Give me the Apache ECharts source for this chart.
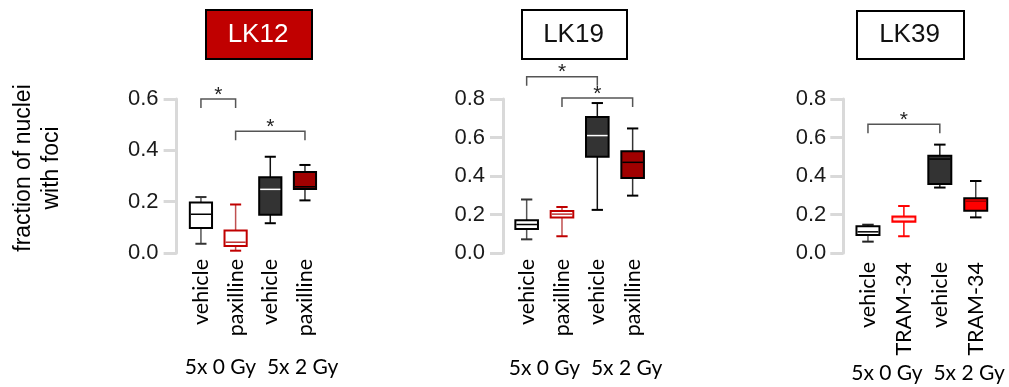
<!DOCTYPE html>
<html>
<head>
<meta charset="utf-8">
<script src="https://cdn.jsdelivr.net/npm/echarts@6/dist/echarts.min.js"></script>
<style>
html,body{margin:0;padding:0;background:#fff;}
#c{width:1009px;height:387px;}
</style>
</head>
<body>
<div id="c"></div>
<script>
// ---- data ----
const categoriesLK12 = ['vehicle', 'paxilline', 'vehicle', 'paxilline'];
const categoriesLK19 = ['vehicle', 'paxilline', 'vehicle', 'paxilline'];
const categoriesLK39 = ['vehicle', 'TRAM-34', 'vehicle', 'TRAM-34'];
// [low whisker, Q1, median, Q3, high whisker]
const boxesLK12 = [
  [0.036, 0.097, 0.151, 0.197, 0.218],
  [0.009, 0.027, 0.042, 0.088, 0.189],
  [0.116, 0.149, 0.248, 0.295, 0.375],
  [0.205, 0.249, 0.258, 0.316, 0.343]
];
const boxesLK19 = [
  [0.071, 0.125, 0.148, 0.170, 0.278],
  [0.087, 0.184, 0.202, 0.218, 0.239],
  [0.224, 0.500, 0.610, 0.707, 0.779],
  [0.298, 0.389, 0.471, 0.528, 0.647]
];
const boxesLK39 = [
  [0.059, 0.094, 0.110, 0.139, 0.147],
  [0.087, 0.162, 0.176, 0.190, 0.244],
  [0.340, 0.358, 0.488, 0.505, 0.563],
  [0.185, 0.220, 0.269, 0.284, 0.374]
];
// significance brackets: [from category, to category, bracket height]
const sigLK12 = [[0, 1, 0.600], [1, 3, 0.474]];
const sigLK19 = [[0, 2, 0.916], [1, 3, 0.805]];
const sigLK39 = [[0, 2, 0.669]];
const ticksLK12 = { min: 0, max: 0.6, interval: 0.2 };
const ticksLK19 = { min: 0, max: 0.8, interval: 0.2 };
const ticksLK39 = { min: 0, max: 0.8, interval: 0.2 };
const groupLabel = '5x 0 Gy  5x 2 Gy';
const yTitle = 'fraction of nuclei\nwith foci';

// ---- styles ----
const stylesLK12 = [
  { fill: '#ffffff', border: '#000000', median: '#000000', whisker: '#555555', cap: '#333333' },
  { fill: '#ffffff', border: '#c00000', median: '#c03030', whisker: '#c05050', cap: '#c00000' },
  { fill: '#333333', border: '#000000', median: '#ffffff', whisker: '#111111', cap: '#000000' },
  { fill: '#a00000', border: '#000000', median: '#000000', whisker: '#333333', cap: '#000000' }
];
const stylesLK19 = stylesLK12;
const stylesLK39 = [
  { fill: '#ffffff', border: '#000000', median: '#000000', whisker: '#555555', cap: '#222222' },
  { fill: '#ff8c8c', border: '#ff0000', median: '#ffffff', whisker: '#ff0000', cap: '#ff0000' },
  { fill: '#333333', border: '#000000', median: '#000000', whisker: '#222222', cap: '#000000' },
  { fill: '#ff0000', border: '#000000', median: '#a00000', whisker: '#444444', cap: '#000000' }
];

function boxRenderer(styles) {
  return function (params, api) {
    const x = api.value(0);
    const vals = [api.value(1), api.value(2), api.value(3), api.value(4), api.value(5)];
    const p = vals.map(v => api.coord([x, v]));
    const cx = p[0][0];
    const band = api.size([1, 0])[0];
    const bw = band * 0.64;
    const cw = bw * 0.5;
    const s = styles[params.dataIndex];
    const yLow = p[0][1], yQ1 = p[1][1], yMed = p[2][1], yQ3 = p[3][1], yHigh = p[4][1];
    return {
      type: 'group',
      children: [
        { type: 'line', shape: { x1: cx, y1: yQ3, x2: cx, y2: yHigh }, style: { stroke: s.whisker, lineWidth: 1.5 } },
        { type: 'line', shape: { x1: cx, y1: yQ1, x2: cx, y2: yLow }, style: { stroke: s.whisker, lineWidth: 1.5 } },
        { type: 'line', shape: { x1: cx - cw / 2, y1: yHigh, x2: cx + cw / 2, y2: yHigh }, style: { stroke: s.cap, lineWidth: 2 } },
        { type: 'line', shape: { x1: cx - cw / 2, y1: yLow, x2: cx + cw / 2, y2: yLow }, style: { stroke: s.cap, lineWidth: 2 } },
        { type: 'rect', shape: { x: cx - bw / 2, y: yQ3, width: bw, height: yQ1 - yQ3 }, style: { fill: s.fill, stroke: s.border, lineWidth: 2 } },
        { type: 'line', shape: { x1: cx - bw / 2 + 1, y1: yMed, x2: cx + bw / 2 - 1, y2: yMed }, style: { stroke: s.median, lineWidth: 1.5 } }
      ]
    };
  };
}

function sigRenderer(params, api) {
  const a = api.coord([api.value(0), api.value(2)]);
  const b = api.coord([api.value(1), api.value(2)]);
  const leg = 9;
  return {
    type: 'group',
    children: [
      { type: 'polyline', shape: { points: [[a[0], a[1] + leg], [a[0], a[1]], [b[0], b[1]], [b[0], b[1] + leg]] },
        style: { stroke: '#555555', lineWidth: 1.5, fill: null } },
      { type: 'text', x: (a[0] + b[0]) / 2, y: a[1] - 4,
        style: { text: '*', fill: '#222', font: '21px "Liberation Sans", Arial, sans-serif', align: 'center', verticalAlign: 'middle' } }
    ]
  };
}

const grids = [
  { left: 183.6, top: 99, width: 138.7, height: 154 },
  { left: 509, top: 99, width: 141.3, height: 154 },
  { left: 850, top: 99, width: 143.7, height: 154 }
];
const yOffsets = [7, 6, 6.7];
const yLabelMargins = [18, 18, 17];
const xMargins = [6, 6, 9];
const cats = [categoriesLK12, categoriesLK19, categoriesLK39];
const ticks = [ticksLK12, ticksLK19, ticksLK39];
const boxes = [boxesLK12, boxesLK19, boxesLK39];
const styles = [stylesLK12, stylesLK19, stylesLK39];
const sigs = [sigLK12, sigLK19, sigLK39];

const xAxis = cats.map((c, i) => ({
  type: 'category', gridIndex: i, data: c, boundaryGap: true,
  axisLine: { show: false }, axisTick: { show: false },
  axisLabel: { rotate: 90, margin: xMargins[i], color: '#000', fontSize: 21.5, fontFamily: 'Lato, "Open Sans", sans-serif', interval: 0 }
}));
const yAxis = ticks.map((t, i) => ({
  type: 'value', gridIndex: i, min: t.min, max: t.max, interval: t.interval,
  position: 'left', offset: yOffsets[i],
  splitLine: { show: false },
  axisLine: { show: true, lineStyle: { color: '#d9d9d9', width: 3 } },
  axisTick: { show: true, length: 13, lineStyle: { color: '#d9d9d9', width: 3 } },
  axisLabel: { margin: yLabelMargins[i], color: '#1a1a1a', fontSize: 22, fontFamily: '"Liberation Sans", Arial, sans-serif',
    formatter: v => v.toFixed(1) }
}));

const series = [];
for (let i = 0; i < 3; i++) {
  series.push({
    type: 'custom', xAxisIndex: i, yAxisIndex: i, clip: false,
    renderItem: boxRenderer(styles[i]),
    encode: { x: 0, y: [1, 2, 3, 4, 5] },
    data: boxes[i].map((b, k) => [k].concat(b))
  });
  series.push({
    type: 'custom', xAxisIndex: i, yAxisIndex: i, clip: false,
    renderItem: sigRenderer,
    encode: { x: [0, 1], y: 2 },
    data: sigs[i]
  });
}

const titleBoxes = [
  { x: 205, y: 9, w: 106, h: 49, fill: '#c00000', color: '#ffffff', text: 'LK12' },
  { x: 521, y: 9, w: 105, h: 49, fill: '#ffffff', color: '#111111', text: 'LK19' },
  { x: 856, y: 10, w: 107, h: 48, fill: '#ffffff', color: '#111111', text: 'LK39' }
];
const graphic = [];
titleBoxes.forEach(t => {
  graphic.push({ type: 'rect', left: t.x, top: t.y, shape: { width: t.w, height: t.h },
    style: { fill: t.fill, stroke: '#000', lineWidth: 2 } });
  graphic.push({ type: 'text', x: t.x + t.w / 2, y: t.y + t.h / 2 + 1,
    style: { text: t.text, fill: t.color, font: '26px "Liberation Sans", Arial, sans-serif', align: 'center', verticalAlign: 'middle' } });
});
[[261.5, 367], [585.5, 368], [928, 373]].forEach(p => {
  graphic.push({ type: 'text', x: p[0], y: p[1],
    style: { text: groupLabel, fill: '#000', font: '21px Lato, "Open Sans", sans-serif', align: 'center', verticalAlign: 'middle' } });
});
graphic.push({ type: 'text', x: 38, y: 168, rotation: Math.PI / 2,
  style: { text: yTitle, fill: '#000', font: '23px "Liberation Sans", Arial, sans-serif', align: 'center', verticalAlign: 'middle', lineHeight: 28 } });

const chart = echarts.init(document.getElementById('c'), null, { renderer: 'canvas' });
chart.setOption({
  animation: false,
  backgroundColor: '#ffffff',
  grid: grids,
  xAxis: xAxis,
  yAxis: yAxis,
  series: series,
  graphic: graphic
});
</script>
</body>
</html>
